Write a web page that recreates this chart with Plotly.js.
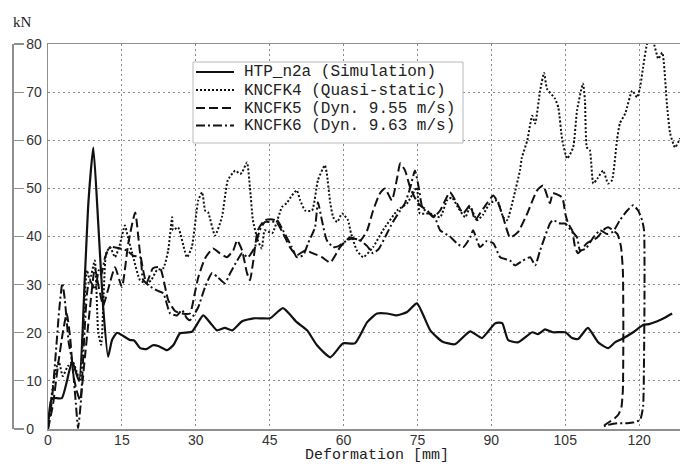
<!DOCTYPE html>
<html>
<head>
<meta charset="utf-8">
<script src="https://cdn.plot.ly/plotly-3.0.1.min.js"></script>
<style>
  html, body { margin: 0; padding: 0; background: #fff; }
  #chart { width: 680px; height: 466px; }
</style>
</head>
<body>
<div id="chart"></div>
<script>
// Force–deformation curves: simulation vs. quasi-static and dynamic tests
const seriesNames = [
  'HTP_n2a (Simulation)',
  'KNCFK4 (Quasi-static)',
  'KNCFK5 (Dyn. 9.55 m/s)',
  'KNCFK6 (Dyn. 9.63 m/s)'
];

// HTP_n2a (Simulation)
const htpX = [0, 0.8, 2.8, 4.9, 6.3, 7.5, 8.2, 9.2, 10.2, 11.2, 12.2, 13, 14, 15, 16.6, 17.5, 18.7, 20, 21.3, 22.5, 24.2, 25.5, 26.8, 29.2, 31.5, 33, 34.3, 35.9, 37.4, 39.4, 41.7, 43.5, 45.1, 47.7, 50.5, 52.6, 54.6, 57.3, 59.9, 62.3, 64.8, 66.8, 68.8, 70.8, 72.9, 74.9, 77.6, 80, 82.6, 85.7, 88.1, 90.8, 92.2, 93.4, 95.4, 98.3, 99.5, 100.9, 102.5, 105, 106.4, 107.6, 109.6, 111.7, 113.7, 115.1, 116.5, 118.8, 120.8, 122, 123.7, 125, 126.7];
const htpY = [0.4, 6.4, 6.4, 14, 10, 32, 47, 58.5, 42.7, 25.3, 15, 18.5, 20, 19.5, 18.5, 18.4, 16.8, 16.6, 17.4, 17.2, 16.4, 17.5, 19.9, 20.2, 23.6, 22, 20.5, 21, 20.5, 22.4, 23, 23, 23, 25.1, 22.2, 20.5, 17.4, 14.9, 17.8, 17.8, 22.2, 24, 24, 23.6, 24.3, 26.1, 20.5, 18.2, 17.6, 20.3, 18.9, 22, 22, 18.5, 18, 20.1, 19.7, 20.7, 20.1, 20.1, 18.9, 18.7, 21, 18, 16.8, 18, 18.7, 20.1, 21.6, 21.8, 22.4, 23, 24];

// KNCFK4 (Quasi-static)
const k4X = [0, 0.5, 1, 1.5, 2.2, 3, 4, 5, 5.8, 6.5, 7.2, 7.9, 8.5, 9.5, 10.2, 10.8, 11.3, 11.8, 12.6, 13.6, 14.5, 15.6, 16.2, 17.3, 18.7, 20.1, 21, 22.1, 23.4, 24.4, 25.2, 25.4, 26.4, 28.2, 29.2, 30.5, 31.3, 31.9, 32.5, 33.9, 35.3, 36.5, 37.6, 38, 39, 39.4, 40.4, 41, 41.6, 42.6, 43.4, 44, 45.5, 47.5, 48.5, 49.5, 50.5, 51.2, 52.2, 53.6, 54.8, 56.2, 56.6, 57.3, 57.9, 58.7, 59.7, 60.9, 61.5, 62.7, 64, 66, 68, 70.9, 72.9, 74.9, 75.1, 75.5, 77.6, 79.6, 81, 82, 83.2, 84.7, 85.7, 87.1, 88.3, 89.7, 91.2, 92.4, 93.2, 94.5, 95.8, 96.2, 97.3, 98.3, 98.9, 99.9, 100.7, 101.3, 102.9, 103.6, 104.4, 105.4, 106.6, 107.4, 108.6, 109, 109.4, 110, 110.7, 111.5, 112.7, 113.7, 114.5, 115.5, 116.1, 117.2, 118.6, 119.6, 120.2, 120.8, 121.8, 122.8, 123.9, 124.7, 125.7, 126.3, 127.3, 128.3];
const k4Y = [0.5, 5, 9, 12, 14, 11, 13, 14, 12, 10, 22, 33, 31, 35, 20, 17.5, 28, 36.5, 37.8, 35.7, 38, 42.3, 40, 35.7, 30.9, 30.3, 31, 33, 33.4, 37.1, 44, 41.3, 41.9, 35.7, 37.8, 47.5, 49.2, 45.4, 45, 40.2, 44, 51.7, 53.3, 53.7, 53, 53.3, 55.4, 50.2, 43.4, 39.2, 37.5, 41.3, 40.7, 46.1, 47, 48.5, 49.6, 47.5, 45.4, 45.4, 51.7, 54.8, 53.1, 47, 44, 43, 44.8, 43.4, 40.7, 37.1, 35.7, 37.8, 41.3, 45.4, 46.9, 50.2, 48.1, 44.8, 44.8, 44, 47.5, 48.1, 46.1, 44, 46.1, 43.4, 44.5, 46.9, 47.5, 44, 43.4, 48, 53.7, 56.4, 60, 65.1, 63.5, 70.3, 74, 70.7, 68.7, 66.8, 60, 56.2, 58.5, 66.2, 71.8, 68.3, 58.5, 57.9, 51, 52, 53.7, 51, 51.7, 60, 63.5, 65.6, 70.3, 68.9, 71, 75.1, 80.5, 80.5, 76.9, 78.2, 66.8, 61.4, 58.5, 60.4];

// KNCFK5 (Dyn. 9.55 m/s) – loading path followed by the unloading branch
const k5X = [0, 1, 2, 3, 3.8, 4.5, 5.1, 5.8, 6.5, 7.5, 8.5, 9.5, 10.2, 11.2, 12.2, 13.6, 15, 16.3, 17.7, 18.7, 20, 21.3, 22.7, 24.4, 25.8, 27.2, 28.8, 29.8, 30.5, 31.9, 33.5, 34.9, 36.3, 37.6, 38.4, 39.4, 40.4, 41, 41.6, 42.6, 44, 46.1, 47.7, 49.1, 50.5, 52.2, 53.8, 55.6, 57.3, 59.3, 61.3, 63.4, 64.8, 66, 67.4, 68.4, 69.8, 70.9, 71.5, 72.5, 73.5, 74.5, 75.5, 77, 78.2, 79.6, 81.6, 83, 84.3, 85.7, 86.7, 87.7, 89.1, 90.4, 91.4, 92.4, 93.8, 95.4, 97.3, 99.3, 100.5, 101.9, 102.5, 104.4, 105, 105.6, 106.4, 107, 107.6, 109.4, 111.5, 112.7, 113.7, 114.7, 115.6, 116.3, 116.7, 116.8, 116.7, 116.4, 115.8, 115, 114, 113, 112.5];
const k5Y = [0, 5, 13, 20, 24, 19, 11.6, 8, 6, 15, 25, 33.5, 30, 25.7, 29, 33.6, 29.5, 38.6, 45, 36.5, 30.3, 33.4, 33.6, 26.8, 24.5, 24, 24, 28.2, 31.5, 35.5, 37.5, 36.5, 35.7, 37.1, 39.2, 37.1, 32.4, 30.9, 34.4, 41.3, 43.4, 43.4, 40.7, 37.8, 36.1, 37.1, 36.5, 35.7, 34.6, 37.8, 39.8, 39.2, 41.3, 45.4, 49, 50, 47.5, 52.3, 55.2, 53.7, 50.2, 48, 46.5, 45.4, 44, 45.4, 49.2, 46.9, 44.8, 46.5, 43.4, 44.8, 46.9, 48.5, 46.9, 44, 39.8, 40.9, 44.8, 49.6, 50.6, 46.9, 49, 48.1, 44.8, 42.7, 41.3, 37.8, 36.5, 38.6, 39.8, 41.3, 41.9, 41.3, 40.5, 38, 33, 20, 8, 4.5, 3, 2.2, 1.5, 0.8, 0.3];

// KNCFK6 (Dyn. 9.63 m/s) – loading path followed by the unloading branch
const k6X = [0, 0.8, 1.6, 2.3, 2.9, 3.4, 4.2, 4.9, 5.6, 6.1, 6.7, 7.3, 7.9, 8.4, 9, 9.6, 10.3, 10.8, 11.6, 12.6, 14.6, 16, 17.3, 18.7, 19.3, 20.5, 22.1, 23.4, 24.8, 26.2, 27.2, 28.2, 28.8, 29.8, 30.5, 31.9, 33.3, 34.5, 35.9, 37, 38.4, 39.4, 40.6, 42, 43, 44, 45.5, 46.5, 47.7, 49.5, 50.5, 51.8, 52.8, 54.2, 54.8, 55.6, 56.6, 57.9, 59, 60.7, 61.9, 63.4, 64.8, 66, 67.2, 68.5, 70, 71.5, 72.5, 73.5, 74.5, 75.3, 76, 77.3, 78.5, 79.6, 81.6, 83, 84.3, 85.7, 86.3, 87.7, 89, 90.4, 91.8, 93.8, 94.8, 96.4, 97.9, 98.9, 99.9, 101.9, 102.5, 104, 105, 106, 107.4, 108, 109.2, 110.7, 112.1, 113.5, 114.7, 116.1, 117.6, 118.8, 119.8, 120.6, 121, 121.1, 121, 120.8, 120.2, 119, 117.6, 115.5, 113.5, 112.5];
const k6Y = [0, 6, 16, 25, 30.3, 27, 18, 14, 6, 0.2, 6, 18, 28, 31, 30, 29, 33, 32, 35.7, 37.8, 37.5, 37.1, 36, 35.7, 31, 29.8, 28.8, 28.2, 24, 23.6, 24.7, 23, 22.6, 24, 25.3, 29.5, 32.4, 31.5, 30.3, 32.4, 35, 36.5, 35.7, 37.8, 41.3, 43, 43, 43.4, 41.3, 37.8, 35.7, 36.1, 38.6, 41.9, 47.1, 43.4, 39.2, 37.8, 38, 39.2, 39.6, 39.2, 38, 36.5, 37.5, 40, 43, 45.4, 47, 50, 53.7, 50, 46, 44.8, 44, 41.3, 40, 38.6, 37.8, 39.8, 41.3, 37.8, 39, 38.6, 35.7, 35, 34, 35, 35.7, 34, 37.1, 42.7, 43.4, 42.7, 42.7, 41.5, 39.8, 37.1, 37.5, 39.8, 41.3, 40.5, 41, 43.4, 45.4, 46.5, 45.4, 43.4, 41.3, 30, 15, 4.6, 1.9, 1.4, 1.2, 1.2, 0.8, 0.4];

const xTickVals = [0, 15, 30, 45, 60, 75, 90, 105, 120];
const yTickVals = [0, 10, 20, 30, 40, 50, 60, 70, 80];

// Line appearance per series (solid, dotted, dashed, dash-dot)
const ink = '#111';
const lineStyles = [
  { color: ink, width: 2.2, dash: 'solid' },
  { color: ink, width: 2.0, dash: '2px,2px' },
  { color: ink, width: 2.0, dash: '9px,4px' },
  { color: ink, width: 2.0, dash: '9px,3px,2px,3px' }
];

const xs = [htpX, k4X, k5X, k6X];
const ys = [htpY, k4Y, k5Y, k6Y];

const traces = xs.map((x, i) => ({
  type: 'scatter', mode: 'lines', x: x, y: ys[i], name: seriesNames[i],
  line: Object.assign({ shape: 'spline', smoothing: 0.5 }, lineStyles[i]),
  showlegend: false, hoverinfo: 'skip'
}));
// carrier for the detached force scale on the far left
traces.push({ type: 'scatter', mode: 'lines', x: [null], y: [null], yaxis: 'y2',
  showlegend: false, hoverinfo: 'skip' });

// page geometry (pixels)
const W = 680, TOP = 44, BOTTOM = 429, PLOT_L = 48;
const px = v => v / W;
const py = v => (BOTTOM - v) / (BOTTOM - TOP);

const gridColor = '#8a8a8a';
const axisColor = '#8f8f8f';
const tickFont = { family: 'Liberation Sans, Arial, sans-serif', size: 14, color: '#333' };
const monoFont = { family: 'Liberation Mono, Courier New, monospace', size: 16, color: '#222' };

// key box: frame, line samples and names
const keyRows = [72, 90, 108, 125.5];
const shapes = [{
  type: 'rect', xref: 'paper', yref: 'paper',
  x0: px(193), x1: px(463), y0: py(62), y1: py(143),
  fillcolor: '#fff', line: { color: '#b8b8b8', width: 1 }, layer: 'above'
}];
const annotations = [];
keyRows.forEach((r, i) => {
  shapes.push({
    type: 'line', xref: 'paper', yref: 'paper',
    x0: px(196), x1: px(234), y0: py(r), y1: py(r),
    line: { color: lineStyles[i].color, width: lineStyles[i].width, dash: lineStyles[i].dash },
    layer: 'above'
  });
  annotations.push({
    xref: 'paper', yref: 'paper', x: px(242), y: py(r + 0.5),
    xanchor: 'left', yanchor: 'middle', showarrow: false,
    text: seriesNames[i], font: monoFont
  });
});
annotations.push({
  xref: 'paper', yref: 'paper', x: px(377), y: py(465),
  xanchor: 'center', yanchor: 'bottom', showarrow: false, borderpad: 0,
  text: 'Deformation [mm]', font: Object.assign({}, monoFont, { size: 15 })
});
annotations.push({
  xref: 'paper', yref: 'paper', x: px(11), y: py(22),
  xanchor: 'left', yanchor: 'middle', showarrow: false,
  text: 'kN', font: { family: 'Liberation Serif, Times New Roman, serif', size: 15, color: '#222' }
});

const layout = {
  width: 680, height: 466,
  margin: { l: 0, r: 0, t: TOP, b: 466 - BOTTOM, pad: 0 },
  paper_bgcolor: '#fff', plot_bgcolor: '#fff',
  showlegend: false,
  xaxis: {
    domain: [px(PLOT_L), 1], range: [0, 128.3],
    tickvals: xTickVals, ticktext: xTickVals.map(String),
    ticks: '', tickfont: tickFont, ticklabelstandoff: -2,
    showgrid: true, gridcolor: gridColor, gridwidth: 1, griddash: '2px,3px',
    showline: true, linecolor: axisColor, linewidth: 1.5, mirror: true,
    zeroline: false, fixedrange: true
  },
  yaxis: {
    range: [0, 80], tickvals: yTickVals, showticklabels: false, ticks: '',
    showgrid: true, gridcolor: gridColor, gridwidth: 1, griddash: '2px,3px',
    showline: true, linecolor: axisColor, linewidth: 1.5,
    zeroline: false, fixedrange: true
  },
  yaxis2: {
    overlaying: 'y', anchor: 'free', position: px(12), side: 'right',
    range: [0, 80], tickvals: yTickVals, ticktext: yTickVals.map(String),
    ticks: 'outside', ticklen: 10, tickwidth: 1.2, tickcolor: axisColor,
    tickfont: tickFont, showgrid: false, zeroline: false,
    showline: true, linecolor: axisColor, linewidth: 1.5, fixedrange: true
  },
  shapes: shapes,
  annotations: annotations
};

Plotly.newPlot('chart', traces, layout, { staticPlot: true, displayModeBar: false });
</script>
</body>
</html>
